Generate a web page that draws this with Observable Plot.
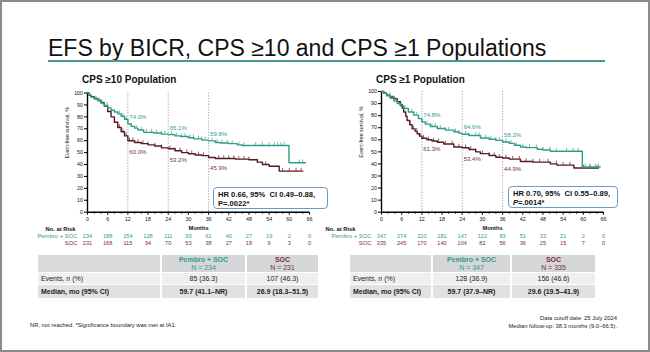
<!DOCTYPE html>
<html><head><meta charset="utf-8">
<script src="https://cdn.jsdelivr.net/npm/d3@7"></script>
<script src="https://cdn.jsdelivr.net/npm/@observablehq/plot@0.6"></script>
<style>
body{margin:0;background:#fff;font-family:"Liberation Sans",Arial,sans-serif;}
#page{position:relative;width:650px;height:352px;overflow:hidden;background:#fff;box-shadow:inset 0 0 0 2px #8c8c8c;}
.abs{position:absolute;}
#title{left:48px;top:37px;font-size:23px;line-height:23px;color:#111;white-space:nowrap;}
#rule{left:48px;top:60px;width:557px;height:2px;background:#4a9a91;}
.sub{font-size:10px;font-weight:bold;color:#111;white-space:nowrap;line-height:10px;}
.hr{border:1px solid #6d9bc3;border-radius:4px;background:#fff;font-size:7.6px;font-weight:bold;line-height:9px;padding:1.5px 4px;box-sizing:border-box;color:#111;white-space:nowrap;}
table.sum{position:absolute;border-collapse:separate;border-spacing:2px 1px;font-size:7px;color:#222;}
table.sum td{text-align:center;padding:0;}
table.sum td.lab{text-align:left;padding-left:3px;}
.foot{font-size:5.8px;color:#222;white-space:nowrap;line-height:8px;}
</style></head>
<body><div id="page"></div>
<script>
// ---------------- data ----------------
const teal = "#2f9c8a", maroon = "#561a20", socText = "#7b2d3c";
const landmarkMonths = [12, 24, 36];
const riskMonths = [0, 6, 12, 18, 24, 30, 36, 42, 48, 54, 60, 66];
const yTicks = [0, 10, 20, 30, 40, 50, 60, 70, 80, 90, 100];

// CPS >=10 population
const pembro10 = [[0,100],[0.5,98.5],[1,96.5],[2,95],[3,93.5],[4,91.5],[5,89.5],[6,87.5],[7,85.5],[8,84],[9,82.5],[10,80.5],[11,78],[12,74.0],[13,72],[14,70.5],[15,69],[16.7,67],[19.7,66.5],[22,65.5],[24,65.1],[26,64],[27.7,63.5],[30,62.5],[31.6,61.5],[34,60.5],[36,59.8],[38,58.5],[39.5,58],[42,57.5],[44.5,56.5],[46,56],[59.9,41.5],[64.8,41.5]];
const soc10 = [[0,100],[0.5,98],[1,97],[2,95.5],[3,94],[4,92],[5,89],[6,84.5],[7,80],[8,75.5],[9,71],[10,67.5],[11,64],[12,60.0],[14,58.5],[16,57.5],[18,56.5],[20,55.5],[22,54],[24,53.2],[26,51.5],[28,50],[30,49],[32,48],[34,47.5],[36,45.9],[38,45],[44,44.5],[48,44],[50.5,42],[52,40],[54,38.5],[57,34.5],[64,34.5]];
const pembro10Censor = [2.5,3.5,4.2,5,5.8,9.5,10.5,11.5,13,14.5,16,17.5,19,20.5,22,23,25,26.5,28,29,30.5,31.5,33,34,35,37,38.5,40,41.5,43,45,46.5,50,52,54,55.5,56.5,57.5,58.5,63,64];
const soc10Censor = [9.5,10.5,11.5,12.5,13.5,15,16.5,18,20,22,24.5,26,27.5,29.5,31,33,34.5,39,40.5,42,43.5,45,46.5,48,50.5,53,58,60,62,63.5];
const pembro10Land = [74.0, 65.1, 59.8];
const soc10Land = [60.0, 53.2, 45.9];
const pembro10Risk = [234,188,154,128,111,93,61,40,27,19,2,0];
const soc10Risk = [231,168,115,94,70,53,38,27,18,9,3,0];

// CPS >=1 population
const pembro1 = [[0,100],[0.7,98.5],[1.5,96.5],[2.7,94.3],[3.7,92],[4.7,90],[5.6,88],[6.6,86],[8,83],[9.6,80.4],[11,77.5],[12,74.8],[13,73],[14.5,71],[16.6,69.3],[19,68],[21.5,66.6],[23,65.5],[24,64.6],[26,63.5],[29.4,61.5],[32,60.5],[34,59.5],[36,58.2],[38,57],[39.5,55.5],[41.3,54],[43,53.5],[46.3,52.2],[48,51.5],[50.2,50.5],[59.7,37.5],[65,37.5]];
const soc1 = [[0,100],[0.7,98.5],[1.5,97],[2.5,95.5],[3.7,94],[4.7,91.5],[5.6,89],[6.2,86],[6.6,83],[7.2,79.5],[7.6,76],[8.4,72.5],[9.1,69],[10,67],[10.6,65],[11.3,63],[12,61.3],[13.5,60],[15,59],[16.6,58],[18.5,56.5],[21.5,54],[24,53.4],[26,52],[28,50],[29.4,48.5],[32,47],[34,45.5],[36,44.9],[38,44],[41.3,42],[45,41.5],[50.2,40],[52.2,39],[57.2,36.6],[64.5,36.6]];
const pembro1Censor = [1.5,2.5,3.5,4.5,6,7,8,9,10.5,12,13.5,15,16,17.5,19,20,22,23,25,26,28,29,31,32.5,34,35,37,38.5,40,42,44,46,48,50,52,55,57,58.5,60.5,62,63.5,64.5];
const soc1Censor = [8.5,9.5,10.5,11.5,12.5,14,15.5,17,19,21,23,25,26.5,28,30,32,33.5,35,37,39,41,43,45,47,49.5,52,54,56,60,62,64];
const pembro1Land = [74.8, 64.6, 58.2];
const soc1Land = [61.3, 53.4, 44.9];
const pembro1Risk = [347,274,220,181,147,122,83,51,33,21,2,0];
const soc1Risk = [335,245,170,140,104,82,56,36,25,15,7,0];

// summary tables
const tableRowLabels = ["Events, n (%)", "Median, mo (95% CI)"];
const groupNames = ["Pembro + SOC", "SOC"];
const nCPS10 = [234, 231], nCPS1 = [347, 335];
const eventsCPS10 = ["85 (36.3)", "107 (46.3)"], eventsCPS1 = ["128 (36.9)", "156 (46.6)"];
const medianCPS10 = ["59.7 (41.1\u2013NR)", "26.9 (18.3\u201351.5)"], medianCPS1 = ["59.7 (37.9\u2013NR)", "29.6 (19.5\u201341.9)"];

// ---------------- helpers ----------------
const page = document.getElementById("page");
function add(html, cls, css) {
  const d = document.createElement("div");
  d.className = "abs " + (cls || "");
  d.innerHTML = html;
  Object.assign(d.style, css || {});
  page.appendChild(d);
  return d;
}
function stepAt(series, m) {
  let v = series[0][1];
  for (const [mm, s] of series) { if (mm <= m) v = s; else break; }
  return v;
}
const minorTicks = d3.range(0, 67, 2).filter(m => m % 6 !== 0);

function panel(cfg) {
  const pts = s => s.map(([m, v]) => ({m, v}));
  const cens = (series, list) => list.map(m => ({m, v: stepAt(series, m)}));
  return Plot.plot({
    width: cfg.width, height: 185,
    marginLeft: cfg.ml, marginRight: cfg.mr, marginTop: cfg.mt, marginBottom: 43.3,
    x: {domain: [0, 66]},
    y: {domain: [0, 100]},
    style: {fontFamily: "'Liberation Sans', Arial, sans-serif", fontSize: "5.3px", background: "transparent", overflow: "visible", color: "#111"},
    marks: [
      Plot.ruleX(landmarkMonths, {stroke: "#8a8a8a", strokeDasharray: "1.2,1.6", strokeWidth: 0.8}),
      Plot.axisY(yTicks, {tickSize: 3, tickPadding: 1.5, fontSize: 5.3, label: null, strokeWidth: 1.1}),
      Plot.axisX(riskMonths, {tickSize: 3, tickPadding: 2, fontSize: 5.3, label: null, strokeWidth: 1.1}),
      Plot.axisX(minorTicks, {tickSize: 2, tickFormat: () => "", label: null, strokeWidth: 1}),
      Plot.ruleX([0], {stroke: "#000", strokeWidth: 1.4}),
      Plot.ruleY([0], {stroke: "#000", strokeWidth: 1.4}),
      Plot.line(pts(cfg.soc), {x: "m", y: "v", curve: "step-after", stroke: maroon, strokeWidth: 1.4}),
      Plot.ruleX(cens(cfg.soc, cfg.socC), {x: "m", y1: "v", y2: d => d.v + 2.3, stroke: maroon, strokeWidth: 0.7}),
      Plot.line(pts(cfg.pembro), {x: "m", y: "v", curve: "step-after", stroke: teal, strokeWidth: 1.4}),
      Plot.ruleX(cens(cfg.pembro, cfg.pembroC), {x: "m", y1: "v", y2: d => d.v + 2.3, stroke: teal, strokeWidth: 0.7}),
      Plot.text(landmarkMonths.map((m, i) => ({m, v: cfg.pLand[i]})), {x: "m", y: "v", text: d => d.v.toFixed(1) + "%", textAnchor: "start", dx: 1.5, dy: -7, fill: teal, fontSize: 6}),
      Plot.text(landmarkMonths.map((m, i) => ({m, v: cfg.sLand[i]})), {x: "m", y: "v", text: d => d.v.toFixed(1) + "%", textAnchor: "start", dx: 1.5, dy: 11, fill: socText, fontSize: 6}),
      Plot.text(["Event-free survival, %"], {frameAnchor: "left", rotate: -90, dx: -20, dy: 6, fontSize: 5.3}),
      Plot.text(["Months"], {frameAnchor: "bottom", dy: 17.5, fontWeight: "bold", fontSize: 5.7}),
      Plot.text(["No. at Risk"], {frameAnchor: "bottom-left", textAnchor: "end", dx: cfg.noRiskDx, dy: 18.5, fontWeight: "bold", fontSize: 5.8}),
      Plot.text([groupNames[0]], {frameAnchor: "bottom-left", textAnchor: "end", dx: -10, dy: 25.5, fill: teal, fontSize: 5.9}),
      Plot.text([groupNames[1]], {frameAnchor: "bottom-left", textAnchor: "end", dx: -10, dy: 33, fill: socText, fontSize: 5.9}),
      Plot.text(riskMonths.map((m, i) => ({m, n: cfg.pRisk[i]})), {x: "m", text: "n", frameAnchor: "bottom", dy: 25.5, fill: teal, fontSize: 5.6}),
      Plot.text(riskMonths.map((m, i) => ({m, n: cfg.sRisk[i]})), {x: "m", text: "n", frameAnchor: "bottom", dy: 33, fill: socText, fontSize: 5.6})
    ]
  });
}

// ---------------- layout ----------------
add("EFS by BICR, CPS \u226510 and CPS \u22651 Populations", "", {}).id = "title";
add("", "", {}).id = "rule";

const left = panel({width: 330, ml: 87, mr: 21, mt: 22.5, pembro: pembro10, soc: soc10, pembroC: pembro10Censor, socC: soc10Censor,
  pLand: pembro10Land, sLand: soc10Land, pRisk: pembro10Risk, sRisk: soc10Risk, noRiskDx: -12});
const lw = add("", "", {left: "0px", top: "70px"}); lw.appendChild(left);
const right = panel({width: 320, ml: 51, mr: 47, mt: 21, pembro: pembro1, soc: soc1, pembroC: pembro1Censor, socC: soc1Censor,
  pLand: pembro1Land, sLand: soc1Land, pRisk: pembro1Risk, sRisk: soc1Risk, noRiskDx: -26});
const rw = add("", "", {left: "330px", top: "70px"}); rw.appendChild(right);

add("CPS \u226510 Population", "sub", {left: "82px", top: "75px"});
add("CPS \u22651 Population", "sub", {left: "376px", top: "75px"});

add("HR 0.66, 95%&nbsp; CI 0.49\u20130.88,<br>P=.0022*", "hr", {left: "213px", top: "187px", width: "115px", height: "22px"});
add("HR 0.70, 95%&nbsp; CI 0.55\u20130.89,<br><i>P</i>=.0014*", "hr", {left: "508px", top: "186px", width: "110px", height: "22px"});

function sumTable(x, widths, n, events, median) {
  const t = document.createElement("table");
  t.className = "sum";
  t.style.left = x + "px"; t.style.top = "254px";
  const cg = widths.map(w => `<col style="width:${w}px">`).join("");
  const head = `<tr style="height:17px"><td style="background:#d9dadc"></td>` +
    groupNames.map((g, i) => `<td style="background:#d5d6d8;color:${i ? socText : teal};line-height:8px"><b>${g}</b><br>N = ${n[i]}</td>`).join("") + `</tr>`;
  const r1 = `<tr style="height:11px;background:#efefef"><td class="lab" style="background:#efefef">${tableRowLabels[0]}</td>` +
    events.map(e => `<td style="background:#efefef">${e}</td>`).join("") + `</tr>`;
  const r2 = `<tr style="height:13px;font-weight:bold"><td class="lab" style="background:#e1e1e1">${tableRowLabels[1]}</td>` +
    median.map(e => `<td style="background:#e1e1e1">${e}</td>`).join("") + `</tr>`;
  t.innerHTML = `<colgroup>${cg}</colgroup>` + head + r1 + r2;
  page.appendChild(t);
}
sumTable(36, [122, 83, 71], nCPS10, eventsCPS10, medianCPS10);
sumTable(348, [81, 77, 83], nCPS1, eventsCPS1, medianCPS1);

add("NR, not reached. *Significance boundary was met at IA1.", "foot", {left: "30px", top: "321px"});
add("Data cutoff date: 25 July 2024<br>Median follow-up: 38.3 months (9.0\u201366.5).", "foot", {right: "33px", top: "314px", textAlign: "right"});
</script>
</body></html>
